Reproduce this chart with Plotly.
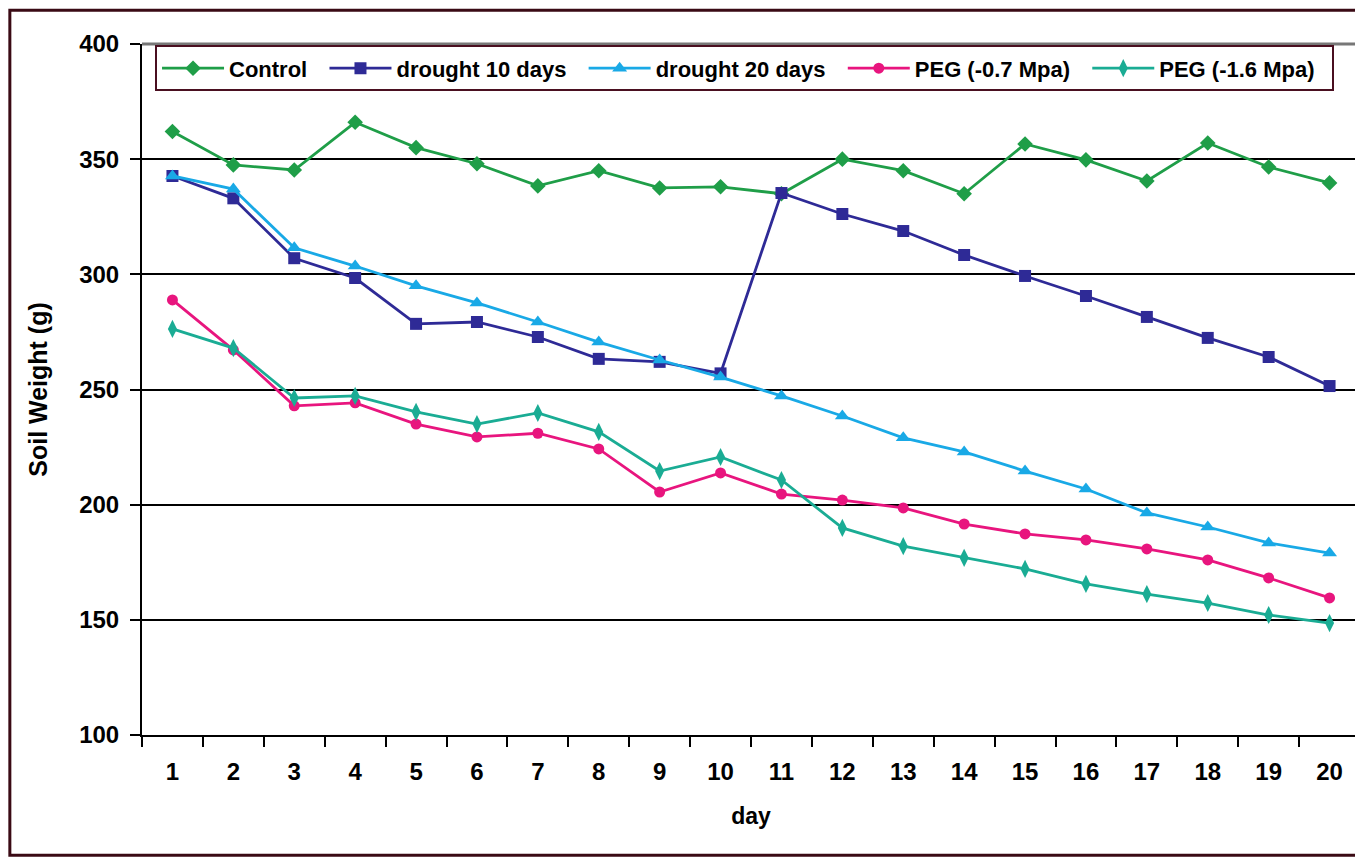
import plotly.graph_objects as go

days = [str(d) for d in range(1, 21)]

control = [362, 347.5, 345.3, 366, 355, 348, 338.4, 345, 337.5, 338,
           335, 350, 345, 335, 356.6, 349.7, 340.5, 357, 346.6, 339.7]
drought10 = [342.7, 333, 307, 298.4, 278.5, 279.3, 272.8, 263.3, 262, 257,
             335.3, 326.2, 318.8, 308.4, 299.3, 290.6, 281.5, 272.4, 264.1, 251.5]
drought20 = [342.7, 337, 311.5, 303.6, 295, 287.6, 279.3, 270.6, 262.8, 255.4,
             247.2, 238.5, 229, 222.9, 214.6, 206.8, 196.4, 190.3, 183.4, 179]
peg07 = [288.9, 267.2, 242.9, 244.2, 235, 229.4, 231, 224.2, 205.5, 213.8,
         204.6, 202, 198.6, 191.6, 187.3, 184.7, 180.8, 176, 168.2, 159.5]
peg16 = [276.3, 268, 246.3, 247.2, 240.3, 235, 239.8, 231.6, 214.6, 220.7,
         210.7, 189.9, 182, 176.9, 172.1, 165.6, 161.2, 157.3, 152.1, 148.6]

series_names = ["Control", "drought 10 days", "drought 20 days", "PEG (-0.7 Mpa)", "PEG (-1.6 Mpa)"]
series_values = [control, drought10, drought20, peg07, peg16]
series_colors = ["#1f9e48", "#2e2a96", "#19a9e6", "#e8157e", "#1aac94"]
series_symbols = ["diamond", "square", "triangle-up", "circle", "diamond-tall"]
series_sizes = [12, 12, 13, 11, 13]

fig = go.Figure()
for name, vals, color, sym, size in zip(series_names, series_values, series_colors,
                                        series_symbols, series_sizes):
    fig.add_trace(go.Scatter(
        x=days, y=vals, name=name + "\u00a0\u00a0", mode="lines+markers",
        line=dict(color=color, width=2.8),
        marker=dict(symbol=sym, size=size, color=color),
    ))

font_family = "Liberation Sans, Arial, sans-serif"

# page body has an 8px margin, so figure coordinates are offset by 8px
fig.update_layout(
    width=1355, height=854,
    margin=dict(l=134, r=3, t=36, b=127),
    paper_bgcolor="white", plot_bgcolor="white",
    font=dict(family=font_family, color="black"),
    showlegend=True,
    legend=dict(
        orientation="h", x=0.0107, y=0.998, xanchor="left", yanchor="top",
        bordercolor="#4a0f20", borderwidth=2, bgcolor="white",
        font=dict(size=22, family=font_family, color="black", weight="bold"),
        itemwidth=62, tracegroupgap=0,
    ),
    xaxis=dict(
        type="category", tickson="boundaries", ticks="outside", ticklen=10,
        tickcolor="black", tickwidth=1.5,
        showline=True, linecolor="black", linewidth=2,
        showgrid=False, ticklabelstandoff=14,
        tickfont=dict(size=24, family=font_family, weight="bold"),
        title=dict(text="day", font=dict(size=23, family=font_family, weight="bold"), standoff=24),
        range=[-0.5, 19.5],
    ),
    yaxis=dict(
        range=[100, 400], tickvals=[100, 150, 200, 250, 300, 350, 400],
        ticks="outside", ticklen=10, tickcolor="black", tickwidth=1.5,
        showline=True, linecolor="black", linewidth=2,
        showgrid=True, gridcolor="black", gridwidth=1.8,
        zeroline=False, ticklabelstandoff=6,
        tickfont=dict(size=24, family=font_family, weight="bold"),
        title=dict(text="Soil Weight (g)", font=dict(size=25, family=font_family, weight="bold"), standoff=24),
    ),
    shapes=[
        dict(type="line", xref="paper", yref="paper", x0=0, x1=1, y0=1, y1=1,
             line=dict(color="#777777", width=3)),
        dict(type="line", xref="paper", yref="paper", x0=1, x1=1, y0=0, y1=1,
             line=dict(color="#777777", width=1.5)),
        dict(type="rect", xref="paper", yref="paper", x0=-0.1085, x1=1.01, y0=-0.174, y1=1.049,
             line=dict(color="#3a0a14", width=3), layer="below"),
    ],
)

fig.write_html("out.html")
